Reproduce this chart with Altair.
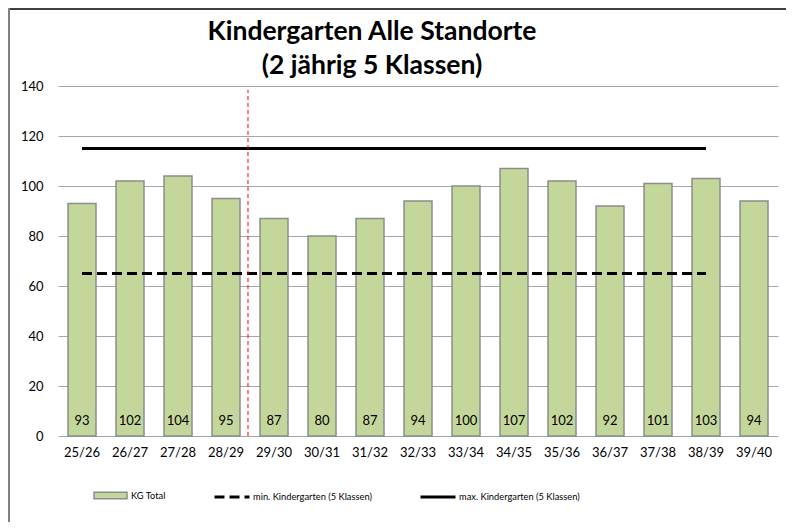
import altair as alt
import pandas as pd

title_lines = ["Kindergarten Alle Standorte", "(2 jährig 5 Klassen)"]
years = ["25/26", "26/27", "27/28", "28/29", "29/30", "30/31", "31/32", "32/33",
         "33/34", "34/35", "35/36", "36/37", "37/38", "38/39", "39/40"]
kg_total = [93, 102, 104, 95, 87, 80, 87, 94, 100, 107, 102, 92, 101, 103, 94]
line_years = years[:14]
min_value = 65
max_value = 115
series_bar = "KG Total"
series_min = "min. Kindergarten (5 Klassen)"
series_max = "max. Kindergarten (5 Klassen)"
marker_year = "28/29"
marker_range = [0, 138.5]

df_bars = pd.DataFrame({"year": years, "value": kg_total, "series": series_bar})
df_lines = pd.DataFrame({
    "year": line_years * 2,
    "value": [min_value] * len(line_years) + [max_value] * len(line_years),
    "series": [series_min] * len(line_years) + [series_max] * len(line_years),
})
df_marker = pd.DataFrame({"year": [marker_year], "y0": [marker_range[0]], "y1": [marker_range[1]]})
df_one = pd.DataFrame({"a": [0]})

FONT = "Lato"
PI = 0.417

x_enc = alt.X("year:N", sort=years,
              scale=alt.Scale(paddingInner=PI, paddingOuter=PI / 2),
              axis=alt.Axis(title=None, labelAngle=0, ticks=False, domain=False,
                            labelPadding=10, labelFontSize=13, labelFont=FONT,
                            labelColor="#000000", grid=False))
y_enc = alt.Y("value:Q", scale=alt.Scale(domain=[0, 140], nice=False),
              axis=alt.Axis(title=None, values=list(range(0, 141, 20)), ticks=False,
                            domain=False, labelPadding=15, labelFontSize=13, labelFont=FONT,
                            labelColor="#000000", gridColor="#a6a6a6", gridWidth=1))

bar_legend = alt.Legend(
    orient="none", legendX=35, legendY=392, title=None,
    labelFont=FONT, labelFontSize=9.3, labelColor="#000000", symbolSize=1089,
    labelOffset=3, symbolType="M-1,-0.19H1V0.19H-1Z",
    symbolStrokeColor="#8c8c8c", symbolStrokeWidth=1.5, symbolOpacity=1,
)
line_legend = alt.Legend(
    orient="none", legendX=155, legendY=392, direction="horizontal", title=None,
    labelFont=FONT, labelFontSize=9.3, labelColor="#000000", symbolSize=1225,
    columnPadding=42, labelOffset=2, labelLimit=300, symbolType="stroke",
    symbolStrokeColor="#000000", symbolStrokeWidth=3,
)

bars = alt.Chart(df_bars).mark_bar(stroke="#8c8c8c", strokeWidth=1.5).encode(
    x=x_enc, y=y_enc,
    fill=alt.Fill("series:N", scale=alt.Scale(domain=[series_bar], range=["#c4d79b"]),
                  legend=bar_legend),
)

labels = alt.Chart(df_bars).mark_text(baseline="bottom", dy=-8, fontSize=13, font=FONT,
                                      color="#000000").encode(
    x=alt.X("year:N", sort=years), y=alt.datum(0), text="value:Q")

lines = alt.Chart(df_lines).mark_line(strokeWidth=3, color="#000000").encode(
    x=alt.X("year:N", sort=years, bandPosition=0.5),
    y="value:Q",
    strokeDash=alt.StrokeDash("series:N",
                              scale=alt.Scale(domain=[series_min, series_max],
                                              range=[[10, 5], [1, 0]]),
                              legend=line_legend),
    detail="series:N",
)

marker = alt.Chart(df_marker).mark_rule(color="#ff0000", strokeDash=[4, 3], strokeWidth=1,
                                        xOffset=8).encode(
    x=alt.X("year:N", sort=years, bandPosition=1),
    y="y0:Q", y2="y1:Q")

frame_top = alt.Chart(df_one).mark_rule(color="#404040", strokeWidth=2, clip=False).encode(
    x=alt.value(-50), x2=alt.value(740), y=alt.value(-77))
frame_left = alt.Chart(df_one).mark_rule(color="#808080", strokeWidth=2, clip=False).encode(
    x=alt.value(-49), y=alt.value(-78), y2=alt.value(440))

title = alt.Chart(df_one).mark_text(
    text=title_lines, font=FONT, fontSize=26.5, fontWeight="bold", color="#000000",
    align="center", baseline="alphabetic", lineHeight=34, clip=False,
).encode(x=alt.value(314), y=alt.value(-46))

chart = alt.layer(frame_top, frame_left, title, bars, labels, lines, marker).properties(
    width=720, height=350,
    autosize=alt.AutoSizeParams(type="none"),
    padding={"left": 50, "top": 78, "right": 8, "bottom": 86},
).configure_view(stroke=None)

chart.save("out.html", embed_options={"renderer": "svg", "actions": False})
